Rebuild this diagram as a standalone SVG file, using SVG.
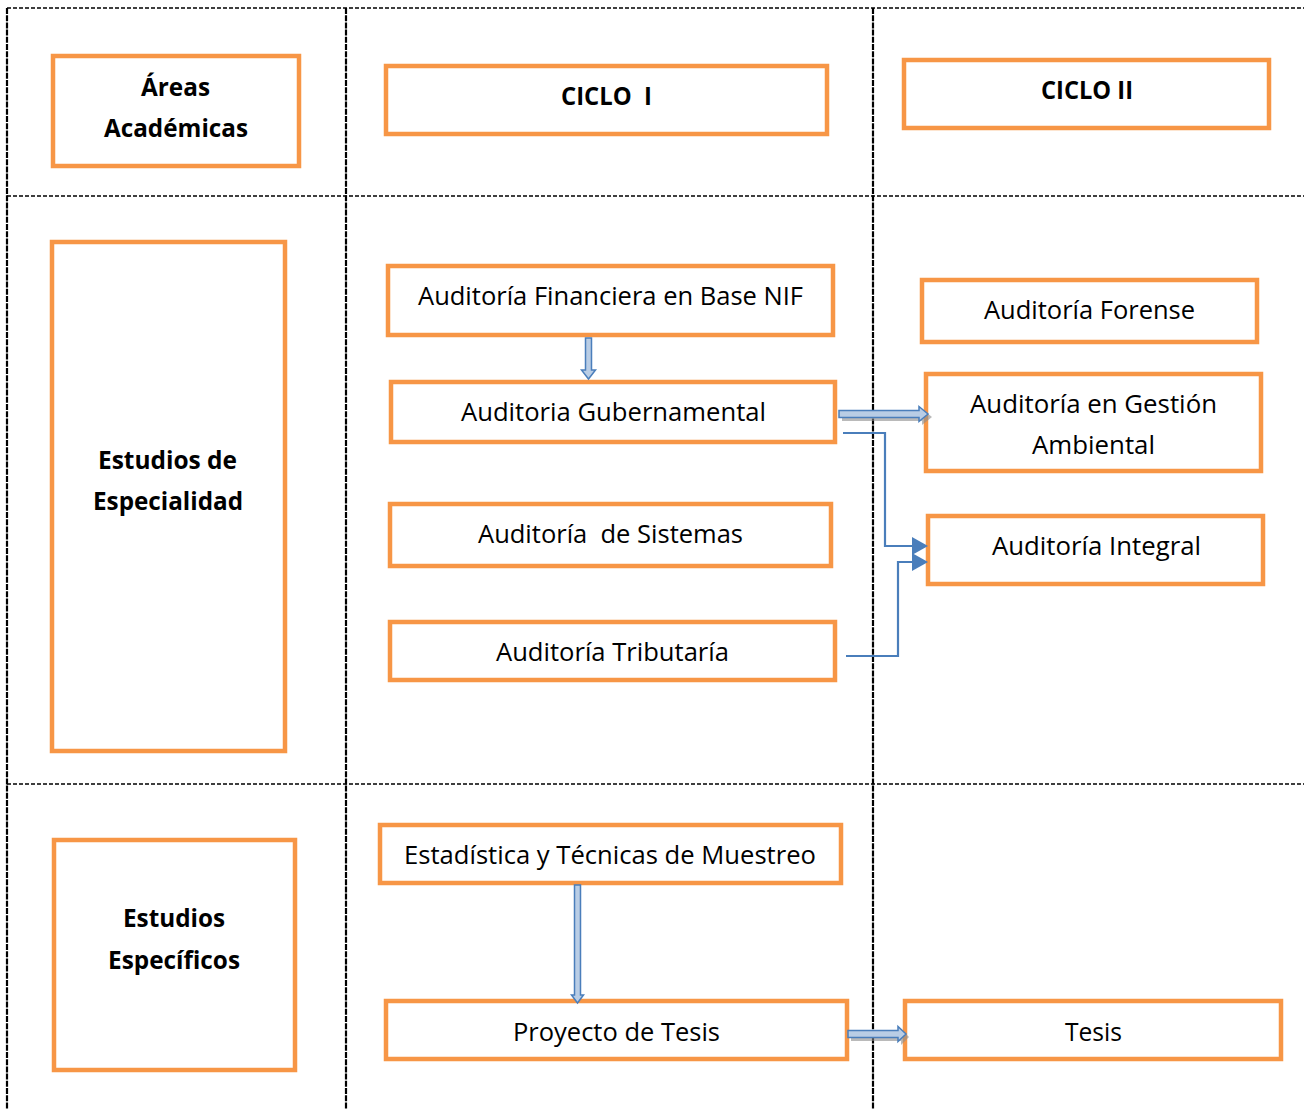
<svg xmlns="http://www.w3.org/2000/svg" width="1304" height="1109" viewBox="0 0 1304 1109">
<defs>
<style>
.grid-h{stroke:#000;stroke-width:1.5;stroke-dasharray:4 2;fill:none}
.grid-v{stroke:#000;stroke-width:2.2;stroke-dasharray:6 1.2;fill:none}
.box{fill:#fff;stroke:#F79646;stroke-width:4.5}
.t{font-family:"Open Sans","Noto Sans",sans-serif;font-size:25.5px;fill:#000;text-anchor:middle}
.b{font-weight:bold}
.hollow{fill:#B9CDE5;stroke:#4A7EBB;stroke-width:1.5;stroke-linejoin:miter}
.shadow{fill:#8c8c8c;opacity:0.6}
.elbow{fill:none;stroke:#4A7EBB;stroke-width:2.2}
.head{fill:#4A7EBB}
</style>
</defs>
<rect width="1304" height="1109" fill="#fff"/>
<g id="grid">
<line class="grid-h" x1="7" y1="8" x2="1304" y2="8"/>
<line class="grid-h" x1="7" y1="196" x2="1304" y2="196"/>
<line class="grid-h" x1="7" y1="784" x2="1304" y2="784"/>
<line class="grid-v" x1="7" y1="8" x2="7" y2="1109"/>
<line class="grid-v" x1="346" y1="8" x2="346" y2="1109"/>
<line class="grid-v" x1="873" y1="8" x2="873" y2="1109"/>
</g>
<g id="areas">
<rect class="box" x="53" y="56" width="246" height="110"/>
<text class="t b" x="175.5" y="96" textLength="69" lengthAdjust="spacingAndGlyphs">Áreas</text>
<text class="t b" x="176" y="137" textLength="144" lengthAdjust="spacingAndGlyphs">Académicas</text>
</g>
<g id="ciclo1">
<rect class="box" x="386" y="66" width="441" height="68"/>
<text class="t b" x="606.5" y="105" textLength="91" lengthAdjust="spacingAndGlyphs" xml:space="preserve">CICLO  I</text>
</g>
<g id="ciclo2">
<rect class="box" x="904" y="60" width="365" height="68"/>
<text class="t b" x="1087" y="99" textLength="92" lengthAdjust="spacingAndGlyphs">CICLO II</text>
</g>
<g id="especialidad">
<rect class="box" x="52" y="242" width="233" height="509"/>
<text class="t b" x="167.5" y="469" textLength="139" lengthAdjust="spacingAndGlyphs">Estudios de</text>
<text class="t b" x="168" y="510" textLength="150" lengthAdjust="spacingAndGlyphs">Especialidad</text>
</g>
<g id="financiera">
<rect class="box" x="388" y="266" width="445" height="69"/>
<text class="t" x="610.5" y="305" textLength="385" lengthAdjust="spacingAndGlyphs">Auditoría Financiera en Base NIF</text>
</g>
<g id="gubernamental">
<rect class="box" x="391" y="382" width="444" height="60"/>
<text class="t" x="613.5" y="421" textLength="305" lengthAdjust="spacingAndGlyphs">Auditoria Gubernamental</text>
</g>
<g id="sistemas">
<rect class="box" x="390" y="504" width="441" height="62"/>
<text class="t" x="610.5" y="543" textLength="265" lengthAdjust="spacingAndGlyphs" xml:space="preserve">Auditoría  de Sistemas</text>
</g>
<g id="tributaria">
<rect class="box" x="390" y="622" width="445" height="58"/>
<text class="t" x="612.5" y="661" textLength="233" lengthAdjust="spacingAndGlyphs">Auditoría Tributaría</text>
</g>
<g id="forense">
<rect class="box" x="922" y="280" width="335" height="62"/>
<text class="t" x="1089.5" y="319" textLength="211" lengthAdjust="spacingAndGlyphs">Auditoría Forense</text>
</g>
<g id="ambiental">
<rect class="box" x="926" y="374" width="335" height="97"/>
<text class="t" x="1093.5" y="413" textLength="247" lengthAdjust="spacingAndGlyphs">Auditoría en Gestión</text>
<text class="t" x="1093.5" y="454" textLength="123" lengthAdjust="spacingAndGlyphs">Ambiental</text>
</g>
<g id="integral">
<rect class="box" x="928" y="516" width="335" height="68"/>
<text class="t" x="1096.5" y="555" textLength="209" lengthAdjust="spacingAndGlyphs">Auditoría Integral</text>
</g>
<g id="especificos">
<rect class="box" x="54" y="840" width="241" height="230"/>
<text class="t b" x="174" y="927" textLength="102" lengthAdjust="spacingAndGlyphs">Estudios</text>
<text class="t b" x="174" y="969" textLength="132" lengthAdjust="spacingAndGlyphs">Específicos</text>
</g>
<g id="estadistica">
<rect class="box" x="380" y="825" width="461" height="58"/>
<text class="t" x="610" y="864" textLength="412" lengthAdjust="spacingAndGlyphs">Estadística y Técnicas de Muestreo</text>
</g>
<g id="proyecto">
<rect class="box" x="386" y="1001" width="461" height="58"/>
<text class="t" x="616.5" y="1041" textLength="207" lengthAdjust="spacingAndGlyphs">Proyecto de Tesis</text>
</g>
<g id="tesis">
<rect class="box" x="905" y="1001" width="376" height="58"/>
<text class="t" x="1093.5" y="1041" textLength="57" lengthAdjust="spacingAndGlyphs">Tesis</text>
</g>
<g id="connectors">
<polygon class="hollow" points="585.5,338 591.5,338 591.5,370 595.5,370 588.5,379 581.5,370 585.5,370"/>
<polygon class="shadow" points="842,413 922,413 922,409 932,417 922,425 922,421 842,421"/>
<polygon class="hollow" points="839,410.5 919,410.5 919,406.5 928,414 919,421.5 919,417.5 839,417.5"/>
<path class="elbow" d="M843,433 H885 V546 H914"/>
<polygon class="head" points="912,537 928,546 912,555"/>
<path class="elbow" d="M846,656 H898 V562 H914"/>
<polygon class="head" points="912,553 928,562 912,571"/>
<polygon class="hollow" points="574.5,885 580.5,885 580.5,995 583.5,995 577.5,1003 571.5,995 574.5,995"/>
<polygon class="shadow" points="851,1033 901,1033 901,1029 909,1037 901,1045 901,1041 851,1041"/>
<polygon class="hollow" points="848,1030.5 898,1030.5 898,1026.5 906,1034 898,1041.5 898,1037.5 848,1037.5"/>
</g>
</svg>
